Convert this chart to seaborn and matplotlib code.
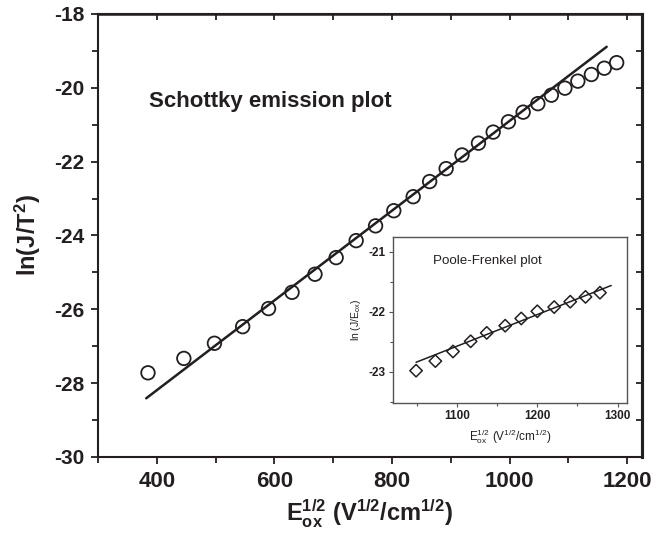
import numpy as np
import pandas as pd
import matplotlib
matplotlib.use('Agg')
import matplotlib.pyplot as plt
from matplotlib.ticker import MultipleLocator
import seaborn as sns

# Schottky emission data (main panel)
e_sqrt = [385, 446, 498, 546, 590, 630, 669, 705, 739, 772, 803, 836, 864,
          892, 919, 947, 972, 998, 1023, 1048, 1071, 1094, 1116, 1139, 1161, 1182]
ln_jt2 = [-27.72, -27.33, -26.92, -26.47, -25.98, -25.54, -25.05, -24.60, -24.14,
          -23.74, -23.33, -22.95, -22.54, -22.19, -21.82, -21.50, -21.20, -20.92,
          -20.66, -20.43, -20.20, -20.01, -19.82, -19.64, -19.47, -19.32]
fit_x = [382, 1165]
fit_y = [-28.41, -18.89]

# Poole-Frenkel data (inset)
pf_x = [1049, 1073, 1095, 1117, 1137, 1160, 1180, 1200, 1221, 1241, 1260, 1278]
pf_y = [-22.98, -22.82, -22.66, -22.49, -22.35, -22.23, -22.11, -21.99, -21.92,
        -21.83, -21.75, -21.68]
pf_fit_x = [1049, 1292]
pf_fit_y = [-22.84, -21.56]

sns.set_style('ticks')
plt.rcParams['font.family'] = ['Liberation Sans', 'DejaVu Sans']
plt.rcParams['mathtext.default'] = 'regular'
plt.rcParams['axes.unicode_minus'] = False

ink = '#231f20'

df = pd.DataFrame({'x': e_sqrt, 'y': ln_jt2})
df_fit = pd.DataFrame({'x': fit_x, 'y': fit_y})
df_pf = pd.DataFrame({'x': pf_x, 'y': pf_y})
df_pf_fit = pd.DataFrame({'x': pf_fit_x, 'y': pf_fit_y})

fig = plt.figure(figsize=(6.68, 5.36), dpi=100)
ax = fig.add_axes([0.1467, 0.1474, 0.8143, 0.8266])

sns.lineplot(data=df_fit, x='x', y='y', ax=ax, color=ink, lw=1.8)
sns.scatterplot(data=df, x='x', y='y', ax=ax, marker='o', s=95,
                facecolor='none', edgecolor=ink, linewidth=1.3, zorder=3)

ax.set_xlim(300, 1225)
ax.set_ylim(-30, -18)
ax.xaxis.set_major_locator(MultipleLocator(200))
ax.xaxis.set_minor_locator(MultipleLocator(100))
ax.yaxis.set_major_locator(MultipleLocator(2))
ax.yaxis.set_minor_locator(MultipleLocator(1))
ax.tick_params(which='both', direction='out', color=ink, width=1.3,
               labelcolor=ink, pad=5)
ax.tick_params(axis='x', labelsize=16)
ax.tick_params(axis='y', labelsize=15)
ax.tick_params(which='major', length=5)
ax.tick_params(which='minor', length=4)
for lbl in ax.get_xticklabels() + ax.get_yticklabels():
    lbl.set_fontweight('bold')
for side in ['left', 'bottom', 'top', 'right']:
    ax.spines[side].set_visible(True)
    ax.spines[side].set_color(ink)
    ax.spines[side].set_linewidth(1.5)
ax.spines['right'].set_linewidth(2.2)

# inward ticks on top and right
top = ax.secondary_xaxis('top')
top.xaxis.set_major_locator(MultipleLocator(100))
top.tick_params(direction='in', length=4, width=1.3, color=ink, labeltop=False)
top.spines['top'].set_linewidth(1.8)
top.spines['top'].set_color(ink)
right = ax.secondary_yaxis('right')
right.yaxis.set_major_locator(MultipleLocator(1))
right.tick_params(direction='in', length=4, width=1.3, color=ink, labelright=False)
right.spines['right'].set_linewidth(2.2)
right.spines['right'].set_color(ink)

ax.set_xlabel(r'E$_{ox}^{1/2}$ (V$^{1/2}$/cm$^{1/2}$)', fontsize=17,
              fontweight='bold', color=ink, labelpad=4)
ax.set_ylabel(r'ln(J/T$^{2}$)', fontsize=17, fontweight='bold', color=ink, labelpad=8)
ax.text(386, -20.38, 'Schottky emission plot', fontsize=16, fontweight='bold',
        color=ink, va='center', ha='left')

# inset
ins = fig.add_axes([0.588, 0.248, 0.351, 0.310])
sns.lineplot(data=df_pf_fit, x='x', y='y', ax=ins, color=ink, lw=1.1)
sns.scatterplot(data=df_pf, x='x', y='y', ax=ins, marker='D', s=40,
                facecolor='none', edgecolor=ink, linewidth=1.1, zorder=3)
ins.set_xlim(1020, 1312)
ins.set_ylim(-23.52, -20.75)
ins.xaxis.set_major_locator(MultipleLocator(100))
ins.xaxis.set_minor_locator(MultipleLocator(50))
ins.yaxis.set_major_locator(MultipleLocator(1))
ins.yaxis.set_minor_locator(MultipleLocator(0.5))
ins.tick_params(which='both', direction='out', color='#555555', width=0.8,
                labelsize=8.5, labelcolor=ink, pad=2)
ins.tick_params(which='major', length=3)
ins.tick_params(which='minor', length=2)
for lbl in ins.get_xticklabels() + ins.get_yticklabels():
    lbl.set_fontweight('bold')
for side in ['left', 'bottom', 'top', 'right']:
    ins.spines[side].set_visible(True)
    ins.spines[side].set_color('#555555')
    ins.spines[side].set_linewidth(1.0)
ins.set_xlabel(r'E$_{ox}^{1/2}$ (V$^{1/2}$/cm$^{1/2}$)', fontsize=8.5, color=ink, labelpad=4)
ins.set_ylabel(r'ln (J/E$_{ox}$)', fontsize=7.5, color=ink, labelpad=4)
ins.text(1070, -21.15, 'Poole-Frenkel plot', fontsize=9.6, color=ink,
         va='center', ha='left')

fig.savefig('out.png', dpi=100)
